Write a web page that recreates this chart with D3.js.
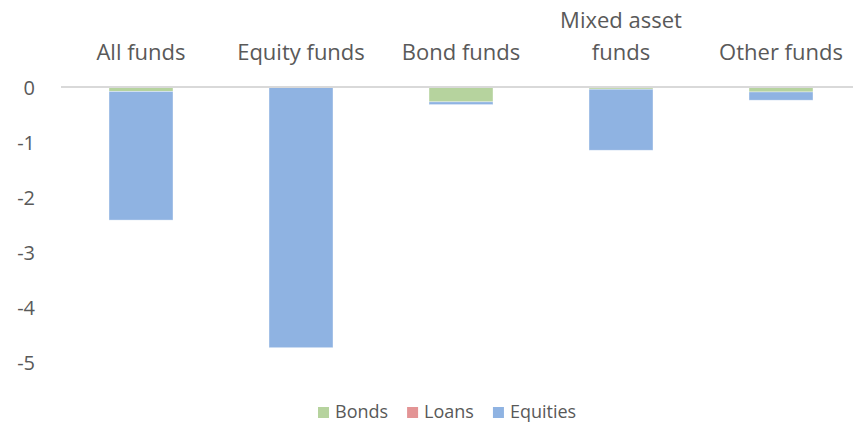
<!DOCTYPE html>
<html><head><meta charset="utf-8">
<script src="https://cdn.jsdelivr.net/npm/d3@7"></script>
<style>body{margin:0;background:#fff;} svg{display:block;font-family:"Open Sans",sans-serif;}</style>
</head><body>
<svg id="c" width="853" height="423"></svg>
<script>
const categories = ["All funds","Equity funds","Bond funds","Mixed asset funds","Other funds"];
const categoryLines = [["All funds"],["Equity funds"],["Bond funds"],["Mixed asset","funds"],["Other funds"]];
const seriesNames = ["Bonds","Loans","Equities"];
const bonds = [-0.08,-0.01,-0.27,-0.04,-0.09];
const loans = [0,0,0,0,0];
const equities = [-2.34,-4.73,-0.05,-1.11,-0.15];
const yTicks = [0,-1,-2,-3,-4,-5];
const colors = ["#b6d39e","#e39495","#8fb3e2"];

const FONT = "'Open Sans',sans-serif";
const svg = d3.select("#c");
const x = d3.scaleBand().domain(categories).range([61,861]).paddingInner(0.6).paddingOuter(0.3);
const y = d3.scaleLinear().domain([-5,0]).range([362,87]);

const rows = categories.map((c,i)=>({cat:c,Bonds:bonds[i],Loans:loans[i],Equities:equities[i]}));
const stacked = d3.stack().keys(seriesNames).offset(d3.stackOffsetDiverging)(rows);
const color = d3.scaleOrdinal().domain(seriesNames).range(colors);

// y axis labels
const yAxis = d3.axisLeft(y).tickValues(yTicks).tickSize(0).tickPadding(0).tickFormat(d=>String(d));
const ya = svg.append("g").attr("transform","translate(35,0)").call(yAxis);
ya.select(".domain").remove();
ya.selectAll("text").attr("fill","#595959").attr("dy","0.35em").style("font-size","20px").style("font-family",FONT);

// bars
svg.append("g").selectAll("g").data(stacked).join("g")
  .attr("fill",d=>color(d.key))
  .selectAll("rect").data(d=>d).join("rect")
  .attr("x",d=>x(d.data.cat))
  .attr("width",x.bandwidth())
  .attr("y",d=>y(Math.max(d[0],d[1])))
  .attr("height",d=>Math.abs(y(d[0])-y(d[1])))
  .attr("stroke","#ffffff").attr("stroke-opacity",0.5).attr("stroke-width",0.75);

// zero line
svg.append("line").attr("x1",61).attr("x2",861).attr("y1",y(0)).attr("y2",y(0))
  .attr("stroke","#d9d9d9").attr("stroke-width",2);

// category labels on top
const cl = svg.append("g");
categories.forEach((c,i)=>{
  const lines = categoryLines[i];
  const t = cl.append("text").attr("x",x(c)+x.bandwidth()/2).attr("text-anchor","middle")
    .attr("fill","#595959").style("font-size","22px").style("font-family",FONT);
  lines.forEach((ln,j)=>{
    t.append("tspan").attr("x",x(c)+x.bandwidth()/2).attr("y",60-(lines.length-1-j)*32).text(ln);
  });
});

// legend
const lg = svg.append("g");
let lx = 318;
seriesNames.forEach((n,i)=>{
  const g = lg.append("g").attr("transform",`translate(${lx},0)`);
  g.append("rect").attr("x",0).attr("y",407).attr("width",11).attr("height",11).attr("fill",colors[i]);
  const t = g.append("text").attr("x",17).attr("y",418).attr("fill","#595959").style("font-size","18px").style("font-family",FONT).text(n);
  lx += 17 + t.node().getComputedTextLength() + 19;
});
</script>
</body></html>
